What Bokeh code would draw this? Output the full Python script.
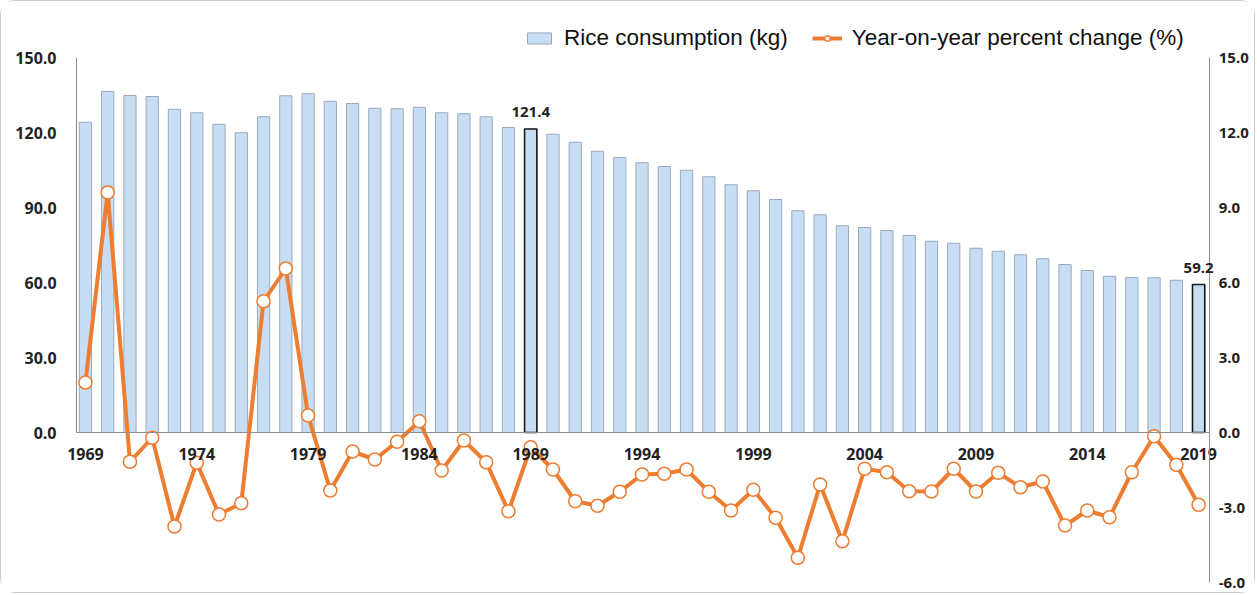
from bokeh.plotting import figure
from bokeh.models import (Range1d, LinearAxis, FixedTicker, NumeralTickFormatter,
                          ColumnDataSource, Legend, LegendItem, LabelSet)
from bokeh.core.properties import value
from bokeh.embed import file_html
from bokeh.resources import INLINE

years = list(range(1969, 2020))
rice_kg = [124.1, 136.4, 134.8, 134.4, 129.3, 127.9, 123.3, 119.9, 126.3, 134.7,
           135.5, 132.5, 131.6, 129.7, 129.5, 130.1, 127.9, 127.5, 126.3, 122.0,
           121.4, 119.3, 116.1, 112.5, 110.0, 107.9, 106.4, 104.9, 102.3, 99.1,
           96.7, 93.2, 88.7, 87.1, 82.7, 82.0, 80.8, 78.8, 76.5, 75.7,
           73.7, 72.5, 71.1, 69.5, 67.2, 64.8, 62.5, 62.0, 61.9, 60.9, 59.2]
yoy_pct = [2.0, 9.6, -1.17, -0.21, -3.76, -1.21, -3.28, -2.83, 5.25, 6.56,
           0.68, -2.32, -0.76, -1.08, -0.37, 0.45, -1.52, -0.32, -1.19, -3.15,
           -0.59, -1.48, -2.75, -2.93, -2.37, -1.68, -1.65, -1.48, -2.37, -3.12,
           -2.29, -3.41, -5.01, -2.08, -4.35, -1.45, -1.59, -2.35, -2.36, -1.45,
           -2.36, -1.61, -2.19, -1.96, -3.72, -3.12, -3.39, -1.59, -0.15, -1.29, -2.89]
highlight_years = [1989, 2019]
year_ticks = [1969, 1974, 1979, 1984, 1989, 1994, 1999, 2004, 2009, 2014, 2019]
left_ticks = [0, 30, 60, 90, 120, 150]
right_ticks = [-6, -3, 0, 3, 6, 9, 12, 15]

TICK_FONT = "Open Sans"
TXT = "#222222"
X_LEFT, X_RIGHT = 1968.6, 2019.5   # where the two value axes stand

src = ColumnDataSource(dict(year=years, rice=rice_kg, pct=yoy_pct))
hl_rice = [rice_kg[years.index(y)] for y in highlight_years]
hl_src = ColumnDataSource(dict(year=highlight_years, rice=hl_rice,
                               label=["%.1f" % v for v in hl_rice]))

# the frame covers the whole canvas; axes are placed at fixed data locations
p = figure(width=1255, height=593, output_backend="svg", toolbar_location=None,
           x_range=Range1d(1965.23, 2021.6), y_range=Range1d(-64.8, 165.6),
           min_border_left=0, min_border_right=0, min_border_top=17, min_border_bottom=0,
           background_fill_color="white", border_fill_color="white")
p.styles = {"border": "1px solid #cfcfcf", "border-radius": "14px"}
p.outline_line_color = None
p.xgrid.visible = False
p.ygrid.visible = False
p.extra_y_ranges = {"pct": Range1d(-6.48, 16.56)}

# bars
bars = p.vbar(x="year", top="rice", width=0.55, source=src,
              fill_color="#c6ddf4", line_color="#9aabbd", line_width=1)
p.vbar(x="year", top="rice", width=0.55, source=hl_src,
       fill_color="#c6ddf4", line_color="#1a1a1a", line_width=1.6)
p.add_layout(LabelSet(x="year", y="rice", text="label", source=hl_src,
                      text_align="center", text_baseline="bottom", y_offset=12,
                      text_font=value(TICK_FONT), text_font_style="bold",
                      text_font_size="15px", text_color=TXT))

# line
ln = p.line(x="year", y="pct", source=src, y_range_name="pct",
            line_color="#ed7d31", line_width=4)
mk = p.scatter(x="year", y="pct", source=src, y_range_name="pct", marker="circle",
               size=13, fill_color="white", line_color="#ed7d31", line_width=1.5)

def style_axis(ax, size, standoff):
    ax.axis_line_color = "#8c8c8c"
    ax.major_tick_line_color = None
    ax.minor_tick_line_color = None
    ax.major_tick_in = 0
    ax.major_tick_out = 0
    ax.major_label_standoff = standoff
    ax.major_label_text_font = TICK_FONT
    ax.major_label_text_font_style = "bold"
    ax.major_label_text_font_size = size
    ax.major_label_text_color = TXT

# horizontal axis at zero
xa = p.xaxis[0]
xa.fixed_location = 0
xa.bounds = (X_LEFT, X_RIGHT)
xa.ticker = FixedTicker(ticks=year_ticks)
style_axis(xa, "16px", 15)

# left value axis
ya = p.yaxis[0]
ya.fixed_location = X_LEFT
ya.ticker = FixedTicker(ticks=left_ticks)
ya.bounds = (0, 150)
ya.formatter = NumeralTickFormatter(format="0.0")
style_axis(ya, "16px", 20)

# right percent axis
ra = LinearAxis(y_range_name="pct", ticker=FixedTicker(ticks=right_ticks),
                formatter=NumeralTickFormatter(format="0.0"), bounds=(-6, 15))
ra.fixed_location = X_RIGHT
style_axis(ra, "15px", 9)
p.add_layout(ra, "right")

legend = Legend(items=[LegendItem(label="Rice consumption (kg)", renderers=[bars]),
                       LegendItem(label="Year-on-year percent change (%)", renderers=[ln, mk])],
                orientation="horizontal", location=(523, 543),
                label_text_font="Liberation Sans", label_text_font_size="22.5px",
                label_text_color="#111111", glyph_width=30, glyph_height=14,
                label_standoff=10, spacing=24, padding=6, margin=0,
                border_line_color=None, background_fill_alpha=0)
p.add_layout(legend, "center")

open("out.html", "w").write(file_html(p, INLINE))
